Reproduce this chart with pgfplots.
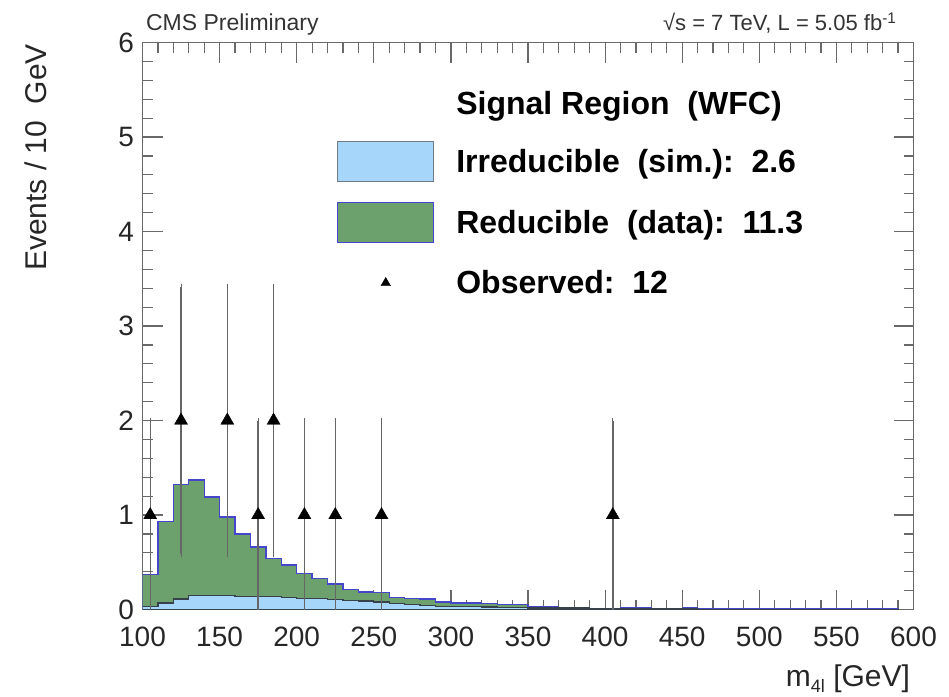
\documentclass[border=0pt]{standalone}
\usepackage{fontspec}
\setmainfont{Liberation Sans}
\usepackage{pgfplots}
\pgfplotsset{compat=1.18}
\usepackage{pgfplotstable}

\definecolor{redgreen}{RGB}{108,160,108}
\definecolor{irrblue}{RGB}{166,215,250}
\definecolor{totline}{RGB}{70,70,205}
\definecolor{irrline}{RGB}{55,65,75}
\definecolor{framegray}{RGB}{105,105,105}

% total (irreducible + reducible), per 10 GeV bin, left bin edge
\pgfplotstableread{
x y
100 0.37
110 0.93
120 1.32
130 1.37
140 1.19
150 0.98
160 0.80
170 0.66
180 0.54
190 0.47
200 0.38
210 0.33
220 0.27
230 0.21
240 0.185
250 0.18
260 0.13
270 0.12
280 0.11
290 0.08
300 0.07
310 0.07
320 0.06
330 0.05
340 0.05
350 0.025
360 0.025
370 0.02
380 0.02
390 0.01
400 0.01
410 0.02
420 0.02
430 0.01
440 0.005
450 0.015
460 0.004
470 0.004
480 0.004
490 0.004
500 0.004
510 0.004
520 0.004
530 0.004
540 0.004
550 0.004
560 0.004
570 0.004
580 0.004
590 0.004
}\totaltab

% irreducible (sim.)
\pgfplotstableread{
x y
100 0.035
110 0.07
120 0.11
130 0.145
140 0.15
150 0.145
160 0.14
170 0.14
180 0.135
190 0.13
200 0.12
210 0.115
220 0.105
230 0.095
240 0.09
250 0.08
260 0.065
270 0.055
280 0.045
290 0.035
300 0.03
310 0.03
320 0.025
330 0.02
340 0.02
350 0.015
360 0.015
370 0.015
380 0.015
390 0.008
400 0.008
410 0.008
420 0.008
430 0.008
440 0.004
450 0.008
460 0.003
470 0.003
480 0.003
490 0.003
500 0.003
510 0.003
520 0.003
530 0.003
540 0.003
550 0.003
560 0.003
570 0.003
580 0.003
590 0.003
}\irrtab

% observed
\pgfplotstableread{
x y e
105 1 1
125 2 1.414
155 2 1.414
175 1 1
185 2 1.414
205 1 1
225 1 1
255 1 1
405 1 1
}\datatab

\begin{document}
\begin{tikzpicture}
\begin{axis}[
  name=ax,
  scale only axis,
  width=771pt, height=567pt,
  xmin=100, xmax=600, ymin=0, ymax=6,
  xtick={100,150,...,600}, ytick={0,1,...,6},
  minor x tick num=4, minor y tick num=4,
  tick align=inside,
  xtick pos=both, ytick pos=both,
  xticklabel pos=lower, yticklabel pos=left,
  major tick length=20pt, minor tick length=10pt,
  axis line style={framegray, line width=1.5pt},
  every tick/.style={framegray, line width=1.2pt},
  tick label style={font=\fontsize{28}{30}\selectfont, black!85},
  xticklabel style={yshift=-14pt},
  yticklabel style={xshift=-5pt},
  /pgf/number format/assume math mode=true,
  legend style={at={(axis cs:226.1,5.49)}, anchor=north west, draw=none, fill=none,
    inner sep=0pt, font=\bfseries\fontsize{32}{36}\selectfont,
    row sep=20pt, column sep=22pt, nodes={inner sep=0pt}},
  legend cell align=left,
]
\addlegendimage{empty legend}
\addlegendentry{\raisebox{5pt}{Signal Region\ \ (WFC)}\rule[-42pt]{0pt}{1pt}}
\addlegendimage{legend image code/.code={\draw[fill=irrblue, draw=irrline!70, line width=1.2pt] (0pt,-20pt) rectangle (96pt,20pt);}}
\addlegendentry{Irreducible\ \ (sim.):\ \ 2.6}
\addlegendimage{legend image code/.code={\draw[fill=redgreen, draw=totline, line width=1.2pt] (0pt,-20pt) rectangle (96pt,20pt);}}
\addlegendentry{Reducible\ \ (data):\ \ 11.3}
\addlegendimage{legend image code/.code={\path[draw=none, fill=none] (0pt,-20pt) rectangle (96pt,20pt); \draw[black, fill=black] plot[mark=triangle*, mark size=5.5pt] coordinates {(48pt,0pt)};}}
\addlegendentry{Observed:\ \ 12}

\addplot[const plot, fill=redgreen, draw=totline, line width=1.3pt, forget plot] table[x=x,y=y] {\totaltab} \closedcycle;
\addplot[const plot, fill=irrblue, draw=irrline, line width=1.3pt, forget plot] table[x=x,y=y] {\irrtab} \closedcycle;
\addplot[only marks, mark=triangle*, mark size=7.5pt, black, forget plot,
  error bars/.cd, y dir=both, y explicit,
  error bar style={black!60, line width=1.4pt},
  error mark options={black!60, mark size=3pt, line width=1pt}]
  table[x=x, y=y, y error=e] {\datatab};
\end{axis}
\node[anchor=base west, font=\fontsize{23}{26}\selectfont, black!80] at ([yshift=11.5pt]ax.north west) {CMS Preliminary};
\node[anchor=base east, font=\fontsize{22}{26}\selectfont, black!80] at ([xshift=-13.5pt,yshift=11.5pt]ax.north east) {√s = 7 TeV, L = 5.05 fb\textsuperscript{-1}};
\node[rotate=90, anchor=east, font=\fontsize{30}{36}\selectfont, black!85] at ([xshift=-107pt,yshift=2pt]ax.north west) {Events / 10\ \ GeV};
\node[anchor=base east, font=\fontsize{30}{36}\selectfont, black!85] at ([yshift=-77pt]ax.south east) {m\raisebox{-0.35ex}{\fontsize{18}{20}\selectfont 4l} [GeV]};
\path (ax.south west) ++(-142.5pt,-85.5pt) rectangle ++(949pt,695pt);
\end{tikzpicture}
\end{document}
